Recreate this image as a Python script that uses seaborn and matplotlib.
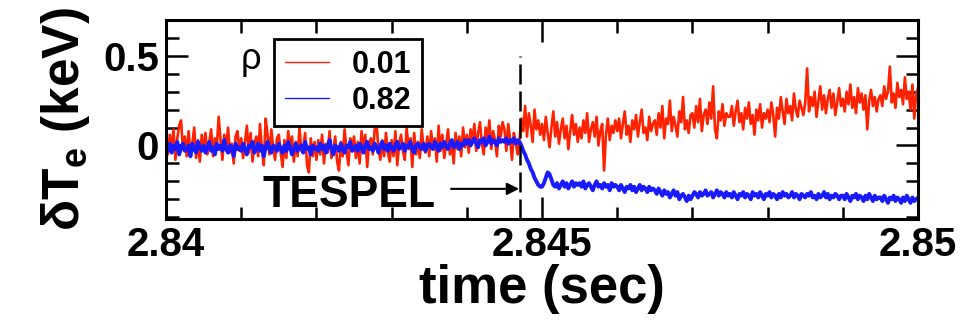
import numpy as np
import pandas as pd
import matplotlib
matplotlib.use("Agg")
import matplotlib.pyplot as plt
from matplotlib.lines import Line2D
from matplotlib.ticker import FixedLocator, FixedFormatter, MultipleLocator
import seaborn as sns

# ---------------- data ----------------
t_start, t_end = 2.840, 2.850          # sec, uniform sampling of the traces
t_tespel = 2.84471                      # pellet injection time (dashed line)

# delta Te in units of 0.01 keV, rho = 0.01 (red)
red_cK = [
    2, -5, 6, -3, 9, -8, 4, 11, 14, -2, 5, -6, 8, -4, 1, 10, -7, 3, -9, 6,
    -3, 7, -5, 2, 9, -6, 4, -1, 16, 3, -8, 6, -2, 10, -4, 1, -10, 5, 8, -3,
    4, -7, 2, 11, -4, 7, -9, 1, 5, -6, 12, -2, -11, 15, 6, -5, 9, -1, -8, 4,
    6, -4, -12, 3, -7, 8, -2, 5, -9, 2, -6, 10, -3, -1, 7, -11, -15, 4, -6, 2,
    -8, 3, -5, 6, -10, 1, -4, 8, -7, -2, 5, -9, -14, 2, -6, 9, -3, -11, 4, -1,
    5, -7, 2, -10, 8, -3, 6, -12, 1, 4, -5, 9, 12, -2, -8, 3, -6, 7, -4, -9,
    3, -6, 8, -11, 1, 6, -3, -8, 10, -2, 4, -12, 7, -5, 2, -7, 9, -1, -4, 5,
    -6, 8, -2, 4, -9, 11, -3, 6, -7, 1, 9, -5, 3, -10, 7, -2, 5, -6, 10, -1,
    6, -4, 9, 2, 12, -3, 7, 13, 1, -5, 10, 4, 14, -2, 8, 3, -6, 11, 5, 13,
    9, -3, 12, 4, -8, 7, 2, -5, 3, 15, 8, 22, 5, 18, 11, 2, 20, 9, 14, 6,
    12, 3, 16, 7, -1, 10, 19, 5, 13, 1, 9, 15, 4, 11, -2, 8, 17, 6, 12, 2,
    10, 4, 14, 7, 18, 2, 9, 13, 5, 16, 0, 8, 12, -14, 6, 15, 3, 11, 7, 14,
    8, 15, 4, 12, 19, 6, 11, 2, 14, 9, 17, 5, 13, 20, 7, 10, 3, 16, 8, 12,
    14, 6, 18, 10, 22, 4, 15, 12, 25, 8, 16, 11, 5, 19, 13, 27, 9, 14, 7, 17,
    18, 10, 22, 13, 26, 8, 17, 20, 12, 24, 15, 33, 9, 4, 19, 14, 23, 11, 18, 16,
    16, 22, 11, 19, 25, 13, 18, 9, 21, 15, 24, 12, 17, 6, 20, 14, 23, 10, 18, 15,
    20, 13, 24, 17, 5, 21, 15, 27, 19, 12, 26, 18, 22, 14, 29, 20, 16, 25, 21, 17,
    24, 43, 19, 27, 22, 30, 16, 25, 33, 20, 28, 18, 26, 31, 21, 29, 17, 24, 32, 22,
    26, 19, 30, 23, 34, 21, 27, 18, 32, 24, 29, 20, 28, 9, 25, 31, 22, 27, 19, 26,
    28, 22, 33, 26, 30, 44, 24, 29, 21, 35, 27, 31, 23, 38, 26, 30, 20, 34, 15, 29, 32,
]

# delta Te in units of 0.01 keV, rho = 0.82 (blue)
blue_cK = [
    -1, -3, 1, -4, 0, -2, 2, -5, -1, 1, -3, -2, 0, -6, 1, -2, -4, 2, -1, -3,
    0, -4, -1, 2, -3, -1, -5, 1, -2, 0, -3, 3, -2, -4, 0, -1, -6, 1, -2, -1,
    -3, 1, -2, -5, 0, -1, 2, -4, -2, 1, -3, 0, -6, -1, 2, -2, -4, 0, -1, -3,
    1, -2, -4, 0, -3, 2, -1, -5, -2, 1, -3, -1, 0, -4, 2, -2, -1, -5, 0, -2,
    -1, -3, 1, -2, 0, -4, -1, 3, -2, -5, 0, -1, -3, 1, -2, -4, 0, -1, 2, -3,
    -2, 0, -3, 1, -1, -4, 0, 2, -2, -1, -3, 1, -1, -4, 0, 2, -2, 0, -3, 1,
    -1, -3, 0, 2, -2, -1, 1, -3, 0, -1, 2, -2, -4, 0, 1, -1, -2, 1, -3, 0,
    1, -1, -2, 2, 0, -3, 1, -1, 2, 0, -2, 1, 3, -1, 0, 2, -2, 1, 0, 3,
    1, 3, 0, 2, 4, 1, -1, 3, 2, 4, 0, 2, 5, 1, 3, 2, 0, 4, 2, 3,
    2, 4, 1, 3, 2, 4, 1, 3, 2, 0, -3, -5, -8, -10, -13, -15, -18, -20, -22, -23,
    -23, -21, -18, -15, -16, -19, -22, -23, -21, -24, -22, -20, -23, -21, -24, -22, -20, -23, -21, -22,
    -21, -23, -20, -24, -22, -21, -23, -25, -22, -20, -23, -22, -24, -21, -23, -22, -25, -21, -23, -22,
    -23, -25, -22, -24, -26, -23, -24, -22, -25, -23, -26, -24, -22, -25, -23, -24, -26, -23, -25, -24,
    -25, -27, -24, -26, -28, -25, -27, -26, -29, -27, -25, -28, -26, -30, -28, -27, -29, -31, -28, -30,
    -28, -26, -27, -29, -26, -28, -27, -25, -28, -27, -26, -29, -27, -25, -28, -26, -27, -29, -26, -28,
    -27, -29, -26, -28, -30, -27, -28, -26, -29, -27, -28, -30, -26, -28, -27, -29, -26, -28, -30, -27,
    -28, -26, -29, -27, -28, -30, -27, -29, -26, -28, -27, -29, -28, -26, -29, -27, -28, -30, -27, -28,
    -29, -27, -28, -26, -29, -28, -30, -27, -29, -28, -26, -29, -27, -30, -28, -29, -27, -28, -30, -28,
    -28, -30, -27, -29, -31, -28, -29, -27, -30, -28, -29, -31, -28, -30, -27, -29, -31, -28, -30, -29,
    -29, -31, -28, -30, -32, -29, -30, -28, -31, -29, -30, -32, -29, -31, -28, -30, -32, -29, -31, -30, -29,
]

rho_labels = ["0.01", "0.82"]
colors = ["#FF2200", "#1A1AFF"]

x_ticks = [2.84, 2.845, 2.85]
x_ticklabels = ["2.84", "2.845", "2.85"]
y_ticks = [0.0, 0.5]
y_ticklabels = ["0", "0.5"]
xlim = (2.84, 2.85)
ylim = (-0.41, 0.70)

# ---------------- build table ----------------
assert len(red_cK) == len(blue_cK)
n = len(red_cK)
t = np.linspace(t_start, t_end, n)
df = pd.DataFrame({
    "time": np.concatenate([t, t]),
    "dTe": np.concatenate([np.array(red_cK), np.array(blue_cK)]) / 100.0,
    "rho": [rho_labels[0]] * n + [rho_labels[1]] * n,
})

# ---------------- style ----------------
sns.set_style("white")
plt.rcParams["font.family"] = ["Liberation Sans", "DejaVu Sans"]
plt.rcParams["mathtext.fontset"] = "custom"
plt.rcParams["mathtext.rm"] = "Liberation Sans"
plt.rcParams["mathtext.bf"] = "Liberation Sans:bold"
for key in ["text.color", "axes.labelcolor", "xtick.color", "ytick.color",
            "axes.edgecolor"]:
    plt.rcParams[key] = "black"

fig = plt.figure(figsize=(9.68, 3.25), dpi=100)
ax = fig.add_axes([0.1715, 0.3262, 0.7769, 0.6123])

sns.lineplot(data=df, x="time", y="dTe", hue="rho", hue_order=rho_labels,
             palette=dict(zip(rho_labels, colors)), estimator=None, sort=False,
             linewidth=1.9, ax=ax, legend=False)
# the rho = 0.82 trace is a denser, thicker band in the original
if len(ax.lines) >= 2:
    ax.lines[1].set_linewidth(2.8)

ax.set_xlim(*xlim)
ax.set_ylim(*ylim)

# dashed injection line
ax.vlines(t_tespel, ylim[0], 0.5, colors="black", linewidth=1.8,
          linestyles=(0, (8, 2.8)), zorder=5)

# TESPEL label with arrow
ax.text(2.84243, -0.343, "TESPEL", fontsize=32, fontweight="bold",
        ha="center", va="baseline", color="black")
ax.annotate("", xy=(2.844695, -0.242), xytext=(2.843790, -0.242),
            arrowprops=dict(arrowstyle="-|>", color="black", lw=1.5,
                            mutation_scale=18, shrinkA=0, shrinkB=0))

# ticks
ax.xaxis.set_major_locator(FixedLocator(x_ticks))
ax.xaxis.set_major_formatter(FixedFormatter(x_ticklabels))
ax.xaxis.set_minor_locator(MultipleLocator(0.001))
ax.yaxis.set_major_locator(FixedLocator(y_ticks))
ax.yaxis.set_major_formatter(FixedFormatter(y_ticklabels))
ax.yaxis.set_minor_locator(MultipleLocator(0.1))
ax.tick_params(which="both", direction="in", top=True, right=True,
               bottom=True, left=True, width=1.8, color="black")
ax.tick_params(which="major", length=16, labelsize=29, pad=5,
               labelcolor="black")
ax.tick_params(which="minor", length=9)
for lab in ax.get_xticklabels() + ax.get_yticklabels():
    lab.set_fontweight("bold")

for sp in ax.spines.values():
    sp.set_visible(True)
    sp.set_linewidth(2.2)
    sp.set_color("black")

ax.set_xlabel("time (sec)", fontsize=38, fontweight="bold", labelpad=0,
              color="black")
ax.set_ylabel(r"δT$_\mathbf{e}$ (keV)", fontsize=37, fontweight="bold",
              labelpad=8, color="black")

# legend (separate handle artists so the traces keep their width)
handles = [Line2D([], [], color=c, linewidth=1.0) for c in colors]
leg = ax.legend(handles, rho_labels, loc="upper left",
                bbox_to_anchor=(0.1436, 0.9045),
                borderaxespad=0, frameon=True, fancybox=False, shadow=False,
                prop={"size": 22, "weight": "bold"}, handlelength=1.45,
                handletextpad=0.75, labelspacing=0.2, borderpad=0.35)
leg.get_frame().set_edgecolor("black")
leg.get_frame().set_linewidth(2.0)
leg.get_frame().set_alpha(1)
for txt in leg.get_texts():
    txt.set_color("black")
ax.text(0.113, 0.80, "ρ", transform=ax.transAxes, fontsize=26,
        ha="center", va="center", color="black")

fig.savefig("out.png", dpi=100)
